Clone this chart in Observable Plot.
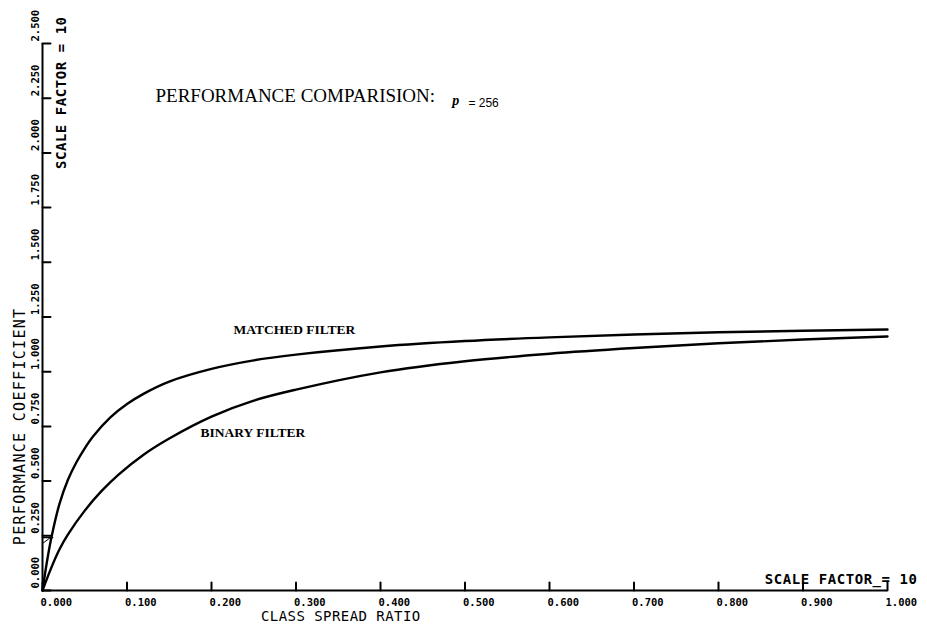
<!DOCTYPE html>
<html><head><meta charset="utf-8">
<script src="https://cdn.jsdelivr.net/npm/d3@7"></script>
<script src="https://cdn.jsdelivr.net/npm/@observablehq/plot@0.6"></script>
<style>body{margin:0;background:#fff} #chart svg{display:block;background:#fff}</style>
</head><body><div id="chart"></div>
<script>
// ---- data ----
const xTicks = [0, 0.1, 0.2, 0.3, 0.4, 0.5, 0.6, 0.7, 0.8, 0.9, 1.0];
const xTickLabels = ["0.000","0.100","0.200","0.300","0.400","0.500","0.600","0.700","0.800","0.900","1.000"];
const yTicks = [0, 0.25, 0.5, 0.75, 1.0, 1.25, 1.5, 1.75, 2.0, 2.25, 2.5];
const yTickLabels = ["0.000","0.250","0.500","0.750","1.000","1.250","1.500","1.750","2.000","2.250","2.500"];

const matchedX = [0, 0.005, 0.01, 0.02, 0.03, 0.04, 0.05, 0.06, 0.08, 0.10, 0.12, 0.15, 0.20, 0.25, 0.30, 0.40, 0.50, 0.60, 0.70, 0.80, 0.90, 1.0];
const matchedY = [0, 0.125, 0.232, 0.395, 0.505, 0.585, 0.650, 0.705, 0.790, 0.852, 0.900, 0.955, 1.013, 1.052, 1.078, 1.115, 1.140, 1.157, 1.170, 1.180, 1.187, 1.193];
const binaryX  = [0, 0.01, 0.02, 0.03, 0.05, 0.07, 0.09, 0.12, 0.15, 0.20, 0.25, 0.30, 0.40, 0.50, 0.60, 0.70, 0.80, 0.90, 1.0];
const binaryY  = [0, 0.100, 0.187, 0.255, 0.365, 0.455, 0.530, 0.622, 0.695, 0.795, 0.868, 0.918, 0.997, 1.048, 1.082, 1.108, 1.130, 1.147, 1.161];

// small construction marks near the origin
const markHX = [0, 0.012];
const markHY = [0.242, 0.242];
const markDX = [0, 0.0095];
const markDY = [0.215, 0.242];

const seriesNames = ["MATCHED FILTER", "BINARY FILTER"];
const xTitle = "CLASS SPREAD RATIO";
const yTitle = "PERFORMANCE COEFFICIENT";
const scaleNote = "SCALE FACTOR = 10";
const xScaleNote = "SCALE FACTOR_= 10";
const titleMain = "PERFORMANCE COMPARISION:";
const titleP = "p";
const titleVal = "= 256";

// ---- build tables ----
const matched = matchedX.map((x, i) => ({x, y: matchedY[i]}));
const binary = binaryX.map((x, i) => ({x, y: binaryY[i]}));
const markH = markHX.map((x, i) => ({x, y: markHY[i]}));
const markD = markDX.map((x, i) => ({x, y: markDY[i]}));
const xt = xTicks.map((v, i) => ({v, label: xTickLabels[i]}));
const yt = yTicks.map((v, i) => ({v, label: yTickLabels[i]}));

const mono = "DejaVu Sans Mono";
const serif = "Liberation Serif";
const tickShape = {draw(ctx, l) { ctx.moveTo(0, 0); ctx.lineTo(0, -l); }};

const chart = Plot.plot({
  width: 927,
  height: 625,
  marginLeft: 42,
  marginRight: 40,
  marginTop: 43,
  marginBottom: 35,
  x: {domain: [0, 1], axis: null},
  y: {domain: [0, 2.5], axis: null},
  style: {background: "#fff", color: "#000"},
  marks: [
    // axis lines
    Plot.ruleY([0], {strokeWidth: 2}),
    Plot.ruleX([0], {strokeWidth: 2}),
    // ticks
    Plot.vector(xt, {x: "v", y: 0, length: 8, rotate: 0, anchor: "start", shape: tickShape, strokeWidth: 2}),
    Plot.vector(yt, {x: 0, y: "v", length: 8, rotate: 90, anchor: "start", shape: tickShape, strokeWidth: 2}),
    // tick labels
    Plot.text(xt, {x: "v", y: 0, text: "label", dy: 12, dx: -2, textAnchor: "start",
      fontFamily: mono, fontWeight: "bold", fontSize: 10.5}),
    Plot.text(yt, {x: 0, y: "v", text: "label", rotate: -90, dx: -7, dy: -2, textAnchor: "start",
      fontFamily: mono, fontWeight: "bold", fontSize: 10.5}),
    // axis titles
    Plot.text([xTitle], {x: 0.353, y: 0, dy: 26, text: d => d, fontFamily: mono, fontSize: 14}),
    Plot.text([yTitle], {x: 0, y: 0.75, dx: -22, rotate: -90, text: d => d, fontFamily: mono, fontSize: 15}),
    Plot.text([scaleNote], {x: 0, y: 2.275, dx: 19, rotate: -90, text: d => d, fontFamily: mono, fontWeight: "bold", fontSize: 14}),
    Plot.text([xScaleNote], {x: 1, y: 0, dx: 30, dy: -11, textAnchor: "end", text: d => d, fontFamily: mono, fontWeight: "bold", fontSize: 14}),
    // title
    Plot.text([titleMain], {x: 0.1337, y: 2.262, textAnchor: "start", text: d => d, fontFamily: serif, fontSize: 19}),
    Plot.text([titleP], {x: 0.485, y: 2.2395, textAnchor: "start", text: d => d, fontFamily: serif, fontSize: 14, fontWeight: "bold", fontStyle: "italic"}),
    Plot.text([titleVal], {x: 0.504, y: 2.228, textAnchor: "start", text: d => d, fontFamily: "Liberation Sans", fontSize: 12}),
    // curves
    Plot.line(matched, {x: "x", y: "y", curve: "catmull-rom", strokeWidth: 2.4}),
    Plot.line(binary, {x: "x", y: "y", curve: "catmull-rom", strokeWidth: 2.4}),
    Plot.line(markH, {x: "x", y: "y", strokeWidth: 1.5}),
    Plot.line(markD, {x: "x", y: "y", strokeWidth: 1}),
    // series labels
    Plot.text([seriesNames[0]], {x: 0.226, y: 1.193, textAnchor: "start", text: d => d, fontFamily: serif, fontWeight: "bold", fontSize: 13.5}),
    Plot.text([seriesNames[1]], {x: 0.187, y: 0.722, textAnchor: "start", text: d => d, fontFamily: serif, fontWeight: "bold", fontSize: 13.5})
  ]
});
// letter spacing for the plotter-style labels (not a Plot text option)
const spacing = new Map([[xTitle, 0.45], [yTitle, 1.3], [scaleNote, 0.55], [xScaleNote, 0.55]]);
d3.select(chart).selectAll("text").each(function() {
  const s = spacing.get(this.textContent);
  if (s != null) this.setAttribute("letter-spacing", s);
});
document.getElementById("chart").appendChild(chart);
</script>
</body></html>
